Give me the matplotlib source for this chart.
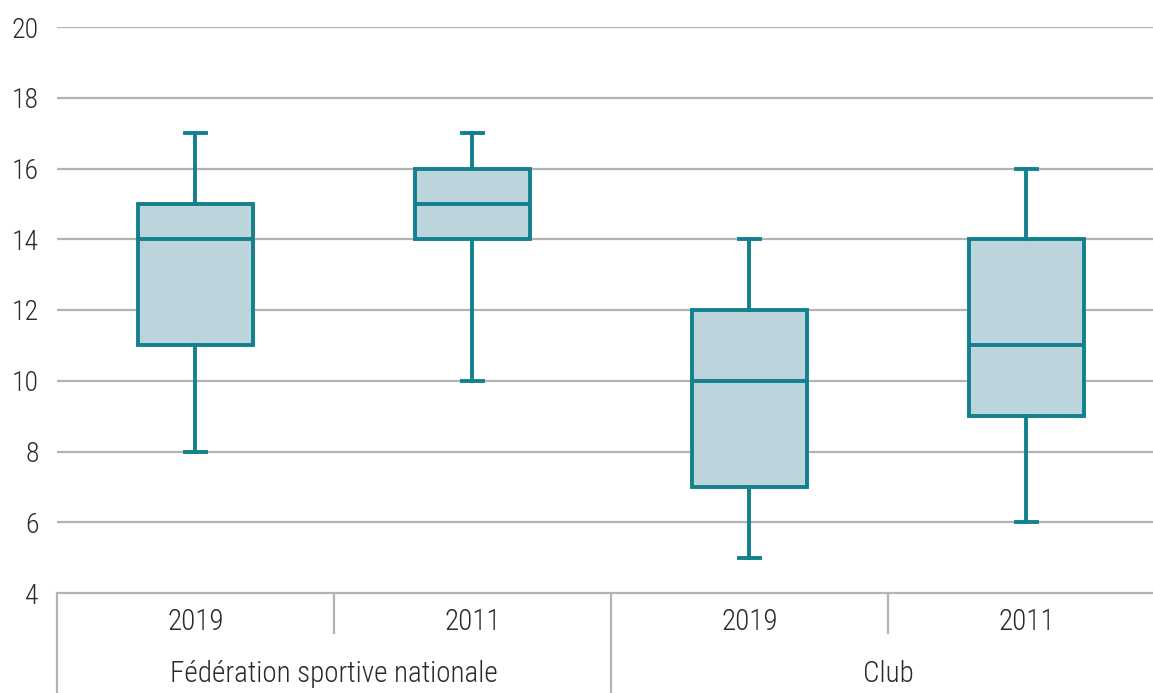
import matplotlib
matplotlib.use("Agg")
import matplotlib.pyplot as plt
import matplotlib.transforms as mtransforms

plt.rcParams['font.family'] = ['Roboto Condensed', 'Liberation Sans Narrow',
                               'Open Sans Condensed', 'DejaVu Sans']
plt.rcParams['font.weight'] = 'light'

years = ["2019", "2011", "2019", "2011"]
groups = ["Fédération sportive nationale", "Club"]
whislo = [8, 10, 5, 6]
q1 = [11, 14, 7, 9]
med = [14, 15, 10, 11]
q3 = [15, 16, 12, 14]
whishi = [17, 17, 14, 16]

edge = "#13808d"
fill = "#bcd4dc"
grid = "#b3b3b3"
txt = "#2a2a2a"

fig = plt.figure(figsize=(11.53, 6.93), dpi=100)
ax = fig.add_axes([57/1153, 100/693, 1096/1153, 566/693])

stats = []
for i in range(len(years)):
    stats.append(dict(whislo=whislo[i], q1=q1[i], med=med[i], q3=q3[i],
                      whishi=whishi[i], fliers=[], label=years[i]))

ax.set_ylim(4, 20)
ax.set_yticks(range(4, 21, 2))
for y in range(6, 21, 2):
    ax.axhline(y, color=grid, lw=1.6, zorder=0)

lw = 2.8
ax.bxp(stats, positions=range(len(years)), widths=0.415, patch_artist=True,
       showfliers=False,
       boxprops=dict(facecolor=fill, edgecolor=edge, linewidth=lw),
       medianprops=dict(color=edge, linewidth=lw),
       whiskerprops=dict(color=edge, linewidth=lw),
       capprops=dict(color=edge, linewidth=lw),
       capwidths=0.076, zorder=3)

ax.set_xlim(-0.5, 3.457)
for s in ["top", "right", "left"]:
    ax.spines[s].set_visible(False)
ax.spines["bottom"].set_color(grid)
ax.spines["bottom"].set_linewidth(1.6)
ax.set_xticks([])
ax.tick_params(axis="y", length=0, pad=13, labelsize=20, labelcolor=txt)

trans = mtransforms.blended_transform_factory(ax.transData, ax.transAxes)
for x, y0 in [(-0.5, -0.18), (0.5, -0.071), (1.5, -0.18), (2.5, -0.071)]:
    ax.plot([x, x], [0, y0], transform=trans, color=grid, lw=1.6, clip_on=False)

for i, yr in enumerate(years):
    ax.text(i, -0.052, yr, transform=trans, ha="center", va="center",
            fontsize=21, color=txt)
ax.text(0.5, -0.143, groups[0], transform=trans, ha="center", va="center",
        fontsize=21, color=txt)
ax.text(2.5, -0.143, groups[1], transform=trans, ha="center", va="center",
        fontsize=21, color=txt)

fig.savefig("out.png", dpi=100)
